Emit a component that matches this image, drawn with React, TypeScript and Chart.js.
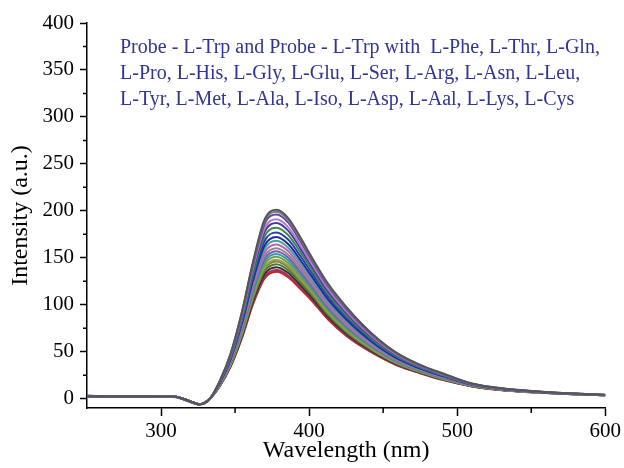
import React, { useEffect, useRef } from "react";
import { Chart, registerables } from "chart.js";

Chart.register(...registerables);

// Wavelength sampling points (nm)
const wavelengths = [250, 275, 300, 310, 318, 326, 333, 340, 347, 355, 362, 370, 378, 386, 394, 402, 413, 425, 436, 447, 460, 475, 490, 510, 530, 560, 600];

// Emission intensities (a.u.)
const trp = [2.5, 2.5, 2.5, 2, -2, -6, 0, 20, 48, 95, 145, 191, 201, 192, 172, 150, 122, 98, 79, 63, 48, 36, 27, 16, 11, 7, 4];
const phe = [2.5, 2.5, 2.5, 2, -2, -6, 0, 19.8, 47.6, 94.1, 143.7, 189.1, 199, 190.1, 170.4, 148.6, 120.9, 97.1, 78.3, 62.5, 47.6, 35.7, 26.8, 15.9, 10.9, 7, 4];
const thr = [3, 2.5, 2.5, 2, -2.5, -6.5, -0.5, 19.5, 46.9, 92.8, 141.6, 186.2, 196, 187.2, 167.8, 146.5, 119.1, 95.6, 77.2, 61.6, 47, 35.3, 26.5, 15.8, 10.8, 6.9, 4];
const gln = [2.5, 2.5, 2.5, 2, -2, -6, 0, 19.1, 45.9, 90.6, 138.2, 181.4, 191, 182.4, 163.6, 143, 116.2, 93.3, 75.4, 60.3, 46, 34.6, 25.9, 15.5, 10.7, 6.8, 3.9];
const pro = [2, 2, 2, 1.5, -2.5, -6, 0, 18.7, 45, 88.9, 135.5, 177.6, 187, 178.6, 160.3, 140.2, 113.9, 91.4, 73.9, 59.2, 45.2, 34.1, 25.5, 15.4, 10.6, 6.8, 3.9];
const his = [2.5, 2.5, 2.5, 2, -2, -6, 0, 18.3, 44, 86.6, 132, 172.9, 182, 173.9, 156.2, 136.8, 111.1, 89.1, 72.1, 57.8, 44.3, 33.4, 25, 15.1, 10.4, 6.7, 3.9];
const gly = [3, 2.5, 2.5, 2, -2, -6, 0, 17.8, 42.9, 84.4, 128.6, 168.1, 177, 169.1, 152, 133.3, 108.2, 86.7, 70.3, 56.4, 43.3, 32.7, 24.5, 14.9, 10.3, 6.6, 3.8];
const glu = [2.5, 2.5, 2.5, 2, -2, -6, 0, 17.4, 41.9, 82.3, 125.2, 163.3, 172, 164.3, 147.9, 129.8, 105.3, 84.4, 68.5, 55.1, 42.3, 32, 23.9, 14.7, 10.1, 6.6, 3.8];
const ser = [2.5, 2.5, 2.5, 2, -2, -6, 0, 17, 41, 80.5, 122.5, 159.5, 168, 160.5, 144.5, 127, 103, 82.5, 67, 54, 41.5, 31.5, 23.5, 14.5, 10, 6.5, 3.8];
const arg = [2, 2.5, 2.5, 2, -2.5, -6, 0, 16.6, 40.1, 78.7, 119.8, 155.7, 164, 156.7, 141.1, 124.2, 100.7, 80.6, 65.5, 52.9, 40.7, 31, 23.1, 14.3, 9.9, 6.4, 3.7];
const asn = [2.5, 2.5, 2.5, 2, -2, -6, 0, 16.3, 39.3, 77, 117.1, 151.9, 160, 152.9, 137.8, 121.4, 98.4, 78.7, 64.1, 51.8, 39.9, 30.4, 22.7, 14.1, 9.8, 6.4, 3.7];
const leu = [2.5, 2.5, 2.5, 2, -2, -6, 0, 16, 38.7, 75.7, 115, 149, 157, 150, 135.3, 119.3, 96.7, 77.3, 63, 51, 39.3, 30, 22.3, 14, 9.7, 6.3, 3.7];
const tyr = [2.5, 2.5, 2.5, 2, -2, -6, 0, 15.7, 38, 74.4, 113, 146.1, 154, 147.1, 132.8, 117.2, 94.9, 75.9, 61.9, 50.2, 38.7, 29.6, 22, 13.9, 9.6, 6.3, 3.6];
const met = [3, 2.5, 2.5, 2, -2, -6, 0, 15.5, 37.4, 73, 110.9, 143.2, 151, 144.2, 130.3, 115.1, 93.2, 74.5, 60.8, 49.4, 38.1, 29.2, 21.7, 13.7, 9.5, 6.2, 3.6];
const ala = [2.5, 2.5, 2.5, 2, -2, -6, 0, 15.2, 36.8, 71.7, 108.9, 140.4, 148, 141.4, 127.8, 113.1, 91.5, 73.1, 59.7, 48.5, 37.6, 28.8, 21.4, 13.6, 9.4, 6.2, 3.6];
const iso = [2.5, 2.5, 2.5, 2, -2, -6, 0, 15, 36.3, 70.8, 107.5, 138.5, 146, 139.5, 126.2, 111.7, 90.3, 72.2, 59, 48, 37.2, 28.5, 21.2, 13.5, 9.3, 6.2, 3.6];
const asp = [2, 2, 2.5, 2, -2, -6, 0, 14.7, 35.7, 69.5, 105.4, 135.6, 143, 136.6, 123.7, 109.6, 88.6, 70.8, 57.9, 47.2, 36.6, 28.1, 20.8, 13.4, 9.2, 6.1, 3.6];
const aal = [2.5, 2.5, 2.5, 2, -2, -6, 0, 14.5, 35.1, 68.2, 103.4, 132.8, 140, 133.8, 121.2, 107.5, 86.9, 69.4, 56.8, 46.4, 36, 27.7, 20.5, 13.2, 9.2, 6.1, 3.5];
const lys = [2.5, 2.5, 2.5, 2, -2, -6, 0, 14.2, 34.4, 66.9, 101.4, 129.9, 137, 130.9, 118.7, 105.4, 85.1, 67.9, 55.7, 45.5, 35.4, 27.3, 20.2, 13.1, 9.1, 6, 3.5];
const cys = [2.5, 2.5, 2.5, 2, -2, -6, 0, 14, 34, 66, 100, 128, 135, 129, 117, 104, 84, 67, 55, 45, 35, 27, 20, 13, 9, 6, 3.5];

const seriesNames = ["L-Trp", "L-Phe", "L-Thr", "L-Gln", "L-Pro", "L-His", "L-Gly", "L-Glu", "L-Ser", "L-Arg", "L-Asn", "L-Leu", "L-Tyr", "L-Met", "L-Ala", "L-Iso", "L-Asp", "L-Aal", "L-Lys", "L-Cys"];
const seriesValues = [trp, phe, thr, gln, pro, his, gly, glu, ser, arg, asn, leu, tyr, met, ala, iso, asp, aal, lys, cys];
const seriesColors = ["#555555", "#7a7a7a", "#5b4aa8", "#b878c8", "#4b3a9a", "#3a8a4a", "#2a40b0", "#1a2aa0", "#4aa0a0", "#c060b0", "#8a8a8a", "#7a58b8", "#3a9aa0", "#6aa050", "#a0a040", "#808040", "#4a7a3a", "#303030", "#a03060", "#d02020"];

const xMajorTicks = [300, 400, 500, 600];
const xMinorTicks = [350, 450, 550];
const yMajorTicks = [0, 50, 100, 150, 200, 250, 300, 350, 400];
const yMinorTicks = [25, 75, 125, 175, 225, 275, 325, 375];

const annotationLines = [
  "Probe - L-Trp and Probe - L-Trp with  L-Phe, L-Thr, L-Gln,",
  "L-Pro, L-His, L-Gly, L-Glu, L-Ser, L-Arg, L-Asn, L-Leu,",
  "L-Tyr, L-Met, L-Ala, L-Iso, L-Asp, L-Aal, L-Lys, L-Cys",
];

const FONT = "'Liberation Serif', 'Times New Roman', serif";

const extrasPlugin = {
  id: "extras",
  afterDraw(chart: any) {
    const ctx = chart.ctx;
    const area = chart.chartArea;
    const xs = chart.scales.x;
    const ys = chart.scales.y;
    ctx.save();
    ctx.strokeStyle = "#000";
    ctx.lineWidth = 1.5;
    ctx.beginPath();
    xMinorTicks.forEach((v) => {
      const px = xs.getPixelForValue(v);
      ctx.moveTo(px, area.bottom);
      ctx.lineTo(px, area.bottom + 5);
    });
    yMinorTicks.forEach((v) => {
      const py = ys.getPixelForValue(v);
      ctx.moveTo(area.left, py);
      ctx.lineTo(area.left - 4, py);
    });
    ctx.stroke();
    ctx.fillStyle = "#303595";
    ctx.font = `20px ${FONT}`;
    ctx.textBaseline = "middle";
    ctx.textAlign = "left";
    annotationLines.forEach((line, i) => {
      ctx.fillText(line, area.left + 33, area.top + 25 + i * 26);
    });
    ctx.restore();
  },
};

export default function App() {
  const canvasRef = useRef<HTMLCanvasElement | null>(null);

  useEffect(() => {
    if (!canvasRef.current) return;
    const datasets = seriesValues.map((vals, i) => ({
      label: seriesNames[i],
      data: wavelengths.map((w, j) => ({ x: w, y: vals[j] })),
      borderColor: seriesColors[i],
      backgroundColor: seriesColors[i],
      borderWidth: 2,
      pointRadius: 0,
      cubicInterpolationMode: "monotone" as const,
      fill: false,
    }));
    const chart = new Chart(canvasRef.current, {
      type: "line",
      data: { datasets },
      options: {
        animation: false,
        responsive: true,
        maintainAspectRatio: false,
        layout: { padding: { left: 0, right: 18, top: 23, bottom: 0 } },
        plugins: { legend: { display: false }, tooltip: { enabled: false } },
        scales: {
          x: {
            type: "linear",
            min: 250,
            max: 600,
            afterBuildTicks: (s: any) => {
              s.ticks = xMajorTicks.map((v) => ({ value: v }));
            },
            afterFit: (s: any) => {
              s.height = 60;
            },
            grid: { drawOnChartArea: false, drawTicks: true, tickLength: 8, tickWidth: 1.5, tickColor: "#000" },
            border: { display: true, color: "#000", width: 1.5 },
            ticks: { color: "#000", padding: 3, maxRotation: 0, font: { family: FONT, size: 21 } },
            title: { display: true, text: "Wavelength (nm)", color: "#000", font: { family: FONT, size: 24 }, padding: { top: 0, bottom: 3 } },
          },
          y: {
            type: "linear",
            min: -10,
            max: 400,
            afterBuildTicks: (s: any) => {
              s.ticks = yMajorTicks.map((v) => ({ value: v }));
            },
            afterFit: (s: any) => {
              s.width = 87;
            },
            grid: { drawOnChartArea: false, drawTicks: true, tickLength: 7, tickWidth: 1.5, tickColor: "#000" },
            border: { display: true, color: "#000", width: 1.5 },
            ticks: { color: "#000", padding: 6, font: { family: FONT, size: 21 } },
            title: { display: true, text: "Intensity (a.u.)", color: "#000", font: { family: FONT, size: 24 }, padding: { top: 6, bottom: 0 } },
          },
        },
      },
      plugins: [extrasPlugin],
    });
    return () => chart.destroy();
  }, []);

  return (
    <div style={{ position: "fixed", left: 0, top: 0, width: 624, height: 468, background: "#fff" }}>
      <canvas ref={canvasRef} />
    </div>
  );
}
